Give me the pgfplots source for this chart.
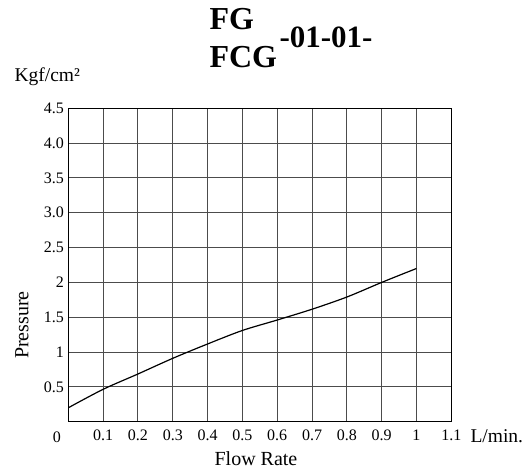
\documentclass[border=0pt]{standalone}
\usepackage{pgfplots}
\pgfplotsset{compat=1.18}
\usepackage{fontspec}
\setmainfont{Liberation Serif}
\begin{document}
\begin{tikzpicture}[x=1pt,y=1pt]
\useasboundingbox (-68.3,-53.3) rectangle (454.7,421.7);
\begin{axis}[
  at={(0,0)}, anchor=origin,
  scale only axis, width=383pt, height=313.4pt,
  xmin=0, xmax=1.1, ymin=0, ymax=4.5,
  xtick={0.1,0.2,0.3,0.4,0.5,0.6,0.7,0.8,0.9,1,1.1},
  xticklabels={0.1,0.2,0.3,0.4,0.5,0.6,0.7,0.8,0.9,1,1.1},
  ytick={0.5,1,1.5,2,2.5,3,3.5,4,4.5},
  yticklabels={0.5,1,1.5,2,2.5,3.0,3.5,4.0,4.5},
  major tick length=0pt,
  grid=major,
  major grid style={black!70, line width=0.9pt},
  axis line style={black, line width=1.4pt},
  tick label style={font=\fontsize{16}{16}\selectfont},
  /pgf/number format/assume math mode=true,
  xticklabel style={yshift=-5pt},
  yticklabel style={xshift=-1pt},
]
\addplot[black, line width=1.2pt, smooth, tension=0.5] coordinates {
(0,0.20) (0.1,0.465) (0.2,0.685) (0.3,0.91) (0.4,1.116) (0.5,1.31)
(0.6,1.46) (0.7,1.615) (0.8,1.79) (0.9,2.0) (1.0,2.20)
};
\end{axis}
% labels (pt coords: X = px - 68.3, Y = 421.7 - py)
\node[font=\fontsize{16}{16}\selectfont] at (57-68.3,421.7-437) {0};
\node[font=\fontsize{19.5}{19.5}\selectfont, anchor=base west] at (467-68.3,421.7-442) {L/min.};
\node[font=\fontsize{20}{20}\selectfont] at (256-68.3,421.7-459) {Flow Rate};
\node[font=\fontsize{20}{20}\selectfont, rotate=90] at (22-68.3,421.7-325) {Pressure};
\node[font=\fontsize{19.5}{19.5}\selectfont, anchor=base west] at (11-68.3,421.7-81) {Kgf/cm²};
\node[font=\fontsize{32}{32}\selectfont\bfseries, anchor=base west] at (206-68.3,421.7-30) {FG};
\node[font=\fontsize{32}{32}\selectfont\bfseries, anchor=base west] at (206-68.3,421.7-67) {FCG};
\node[font=\fontsize{31}{31}\selectfont\bfseries, anchor=base west] at (276-68.3,421.7-47) {-01-01-};
\end{tikzpicture}
\end{document}
